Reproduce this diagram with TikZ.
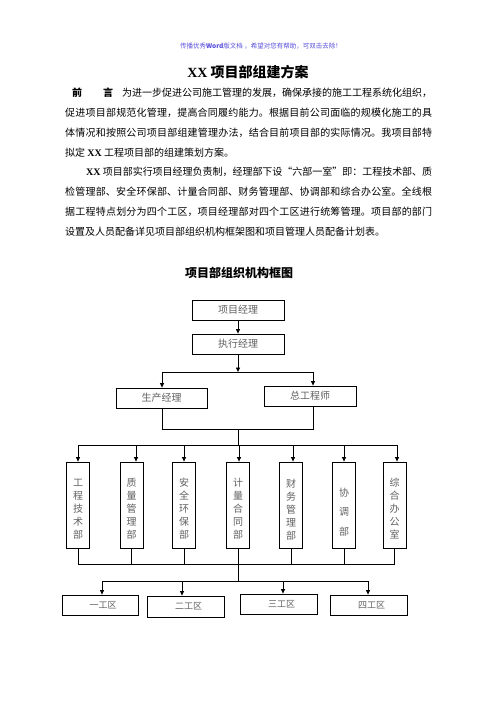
\documentclass[tikz,border=0pt]{standalone}
\usepackage{fontspec}
\setmainfont{Noto Sans CJK SC}
\newfontfamily\xxf{Liberation Serif}
\usetikzlibrary{arrows.meta}
\XeTeXlinebreaklocale "zh"
\XeTeXlinebreakskip=0pt plus 3pt minus 0.5pt
\definecolor{hdr}{RGB}{90,80,220}
\definecolor{boxtxt}{gray}{0.38}
\newcommand\jline[1]{\parbox{367pt}{\parindent0pt\parfillskip0pt\relax #1\par}}
\newcommand\bxx{{\xxf\bfseries\fontsize{10}{12}\selectfont XX}}
\begin{document}
\begin{tikzpicture}[x=1pt,y=-1pt,
  box/.style={draw, line width=0.8pt, minimum width=92pt, minimum height=20pt, inner sep=0pt, font=\fontsize{10}{12}\selectfont, text=boxtxt},
  zbox/.style={draw, line width=0.8pt, minimum width=77pt, minimum height=20pt, inner sep=0pt, font=\fontsize{9}{11}\selectfont, text=boxtxt},
  dbox/.style={draw, line width=0.8pt, minimum width=23pt, minimum height=86pt, inner sep=0pt},
  vtext/.style={align=center, font=\fontsize{10}{13}\selectfont, text=boxtxt, inner sep=0pt},
  arr/.style={-{Triangle[length=4.5pt,width=4pt]}, line width=0.8pt},
  ln/.style={line width=0.8pt},
  bodytext/.style={anchor=west, inner sep=0pt, font=\fontsize{10}{12}\selectfont}]
\useasboundingbox (0,0) rectangle (496,702);
\fill[white] (0,0) rectangle (496,702);

% header and title
\node[inner sep=0pt, text=hdr, font=\fontsize{6.5}{8}\selectfont] (hdr) at (261,46) {传播优秀\textbf{Word}版文档 ，希望对您有帮助，可双击去除！};
\node[inner sep=0pt, font=\fontsize{14}{16}\selectfont\bfseries] (title) at (248,72) {{\xxf\bfseries XX} 项目部组建方案};

% body
\node[bodytext] (l1) at (65,92.5) {\jline{\hspace*{7pt}\textbf{前}\hspace{21pt}\textbf{言}\hspace{9pt}为进一步促进公司施工管理的发展，确保承接的施工工程系统化组织，}};
\node[bodytext] (l2) at (65,112.4) {\jline{促进项目部规范化管理，提高合同履约能力。根据目前公司面临的规模化施工的具}};
\node[bodytext] (l3) at (65,132.3) {\jline{体情况和按照公司项目部组建管理办法，结合目前项目部的实际情况。我项目部特}};
\node[bodytext] (l4) at (65,152.2) {拟定 \bxx{} 工程项目部的组建策划方案。};
\node[bodytext] (l5) at (65,172.1) {\jline{\hspace*{21pt}\bxx{} 项目部实行项目经理负责制，经理部下设“六部一室”即：工程技术部、质}};
\node[bodytext] (l6) at (65,192.0) {\jline{检管理部、安全环保部、计量合同部、财务管理部、协调部和综合办公室。全线根}};
\node[bodytext] (l7) at (65,211.9) {\jline{据工程特点划分为四个工区，项目经理部对四个工区进行统筹管理。项目部的部门}};
\node[bodytext] (l8) at (65,231.8) {设置及人员配备详见项目部组织机构框架图和项目管理人员配备计划表。};

% chart caption
\node[inner sep=0pt, font=\fontsize{12}{14}\selectfont\bfseries] (cap) at (239,273) {项目部组织机构框图};

% top boxes
\node[box] (pm) at (238,310) {项目经理};
\node[box] (em) at (238,344) {执行经理};
\node[box, minimum width=91pt] (prod) at (161.5,398) {生产经理};
\node[box] (chief) at (310,396) {总工程师};

\coordinate (b1) at (238,372);
\coordinate (b1L) at (162,372);
\coordinate (b1R) at (313,372);
\draw[arr] (pm) -- (em);
\draw[arr] (em) -- (b1);
\draw[ln] (b1L) -- (b1R);
\draw[arr] (b1L) -- (prod.north -| b1L);
\draw[arr] (b1R) -- (chief.north -| b1R);

\coordinate (c1L) at (162,429);
\coordinate (c1M) at (238,429);
\coordinate (c1R) at (313,429);
\draw[ln] (prod.south -| c1L) -- (c1L) -- (c1R) -- (chief.south -| c1R);

% departments
\node[dbox] (d1) at (78,505) {};
\node[dbox] (d2) at (131.5,505) {};
\node[dbox] (d3) at (184,505) {};
\node[dbox] (d4) at (238,505) {};
\node[dbox] (d5) at (291,505) {};
\node[dbox] (d6) at (344,505) {};
\node[dbox] (d7) at (394.5,505) {};
\node[vtext] (t1) at (78,509) {工\\程\\技\\术\\部};
\node[vtext] (t2) at (131.5,509) {质\\量\\管\\理\\部};
\node[vtext] (t3) at (184,508.5) {安\\全\\环\\保\\部};
\node[vtext] (t4) at (238,509) {计\\量\\合\\同\\部};
\node[vtext] (t5) at (291,509.5) {财\\务\\管\\理\\部};
\node[vtext, font=\fontsize{10}{19.5}\selectfont] (t6) at (344,512) {协\\调\\部};
\node[vtext] (t7) at (394.5,508.5) {综\\合\\办\\公\\室};

\coordinate (b2M) at (238,445);
\coordinate (a1) at (78,445);
\coordinate (a2) at (136,445);
\coordinate (a3) at (184,445);
\coordinate (a4) at (239,445);
\coordinate (a5) at (293,445);
\coordinate (a6) at (344,445);
\coordinate (a7) at (397,445);
\draw[ln] (c1M) -- (b2M);
\draw[ln] (a1) -- (a7);
\draw[arr] (a1) -- (d1.north -| a1);
\draw[arr] (a2) -- (d2.north -| a2);
\draw[arr] (a3) -- (d3.north -| a3);
\draw[arr] (a4) -- (d4.north -| a4);
\draw[arr] (a5) -- (d5.north -| a5);
\draw[arr] (a6) -- (d6.north -| a6);
\draw[arr] (a7) -- (d7.north -| a7);

\coordinate (b3) at (238,564);
\draw[ln] (d1.south) -- (d1.south |- b3) -- (d7.south |- b3) -- (d7.south);
\foreach \d in {d2,d3,d4,d5,d6} \draw[ln] (\d.south) -- (\d.south |- b3);

% zones
\node[zbox, minimum width=76pt] (z1) at (100,605) {\hspace*{6pt}一工区};
\node[zbox, minimum height=21pt] (z2) at (185.5,606.5) {\hspace*{6pt}二工区};
\node[zbox] (z3) at (278.5,604) {\hspace*{6pt}三工区};
\node[zbox] (z4) at (368.5,605) {\hspace*{6pt}四工区};

\coordinate (b4M) at (238,581);
\coordinate (e1) at (102,581);
\coordinate (e2) at (182,581);
\coordinate (e3) at (283,581);
\coordinate (e4) at (368,581);
\draw[ln] (b3) -- (b4M);
\draw[ln] (e1) -- (e4);
\draw[arr] (e1) -- (z1.north -| e1);
\draw[arr] (e2) -- (z2.north -| e2);
\draw[arr] (e3) -- (z3.north -| e3);
\draw[arr] (e4) -- (z4.north -| e4);
\end{tikzpicture}
\end{document}
